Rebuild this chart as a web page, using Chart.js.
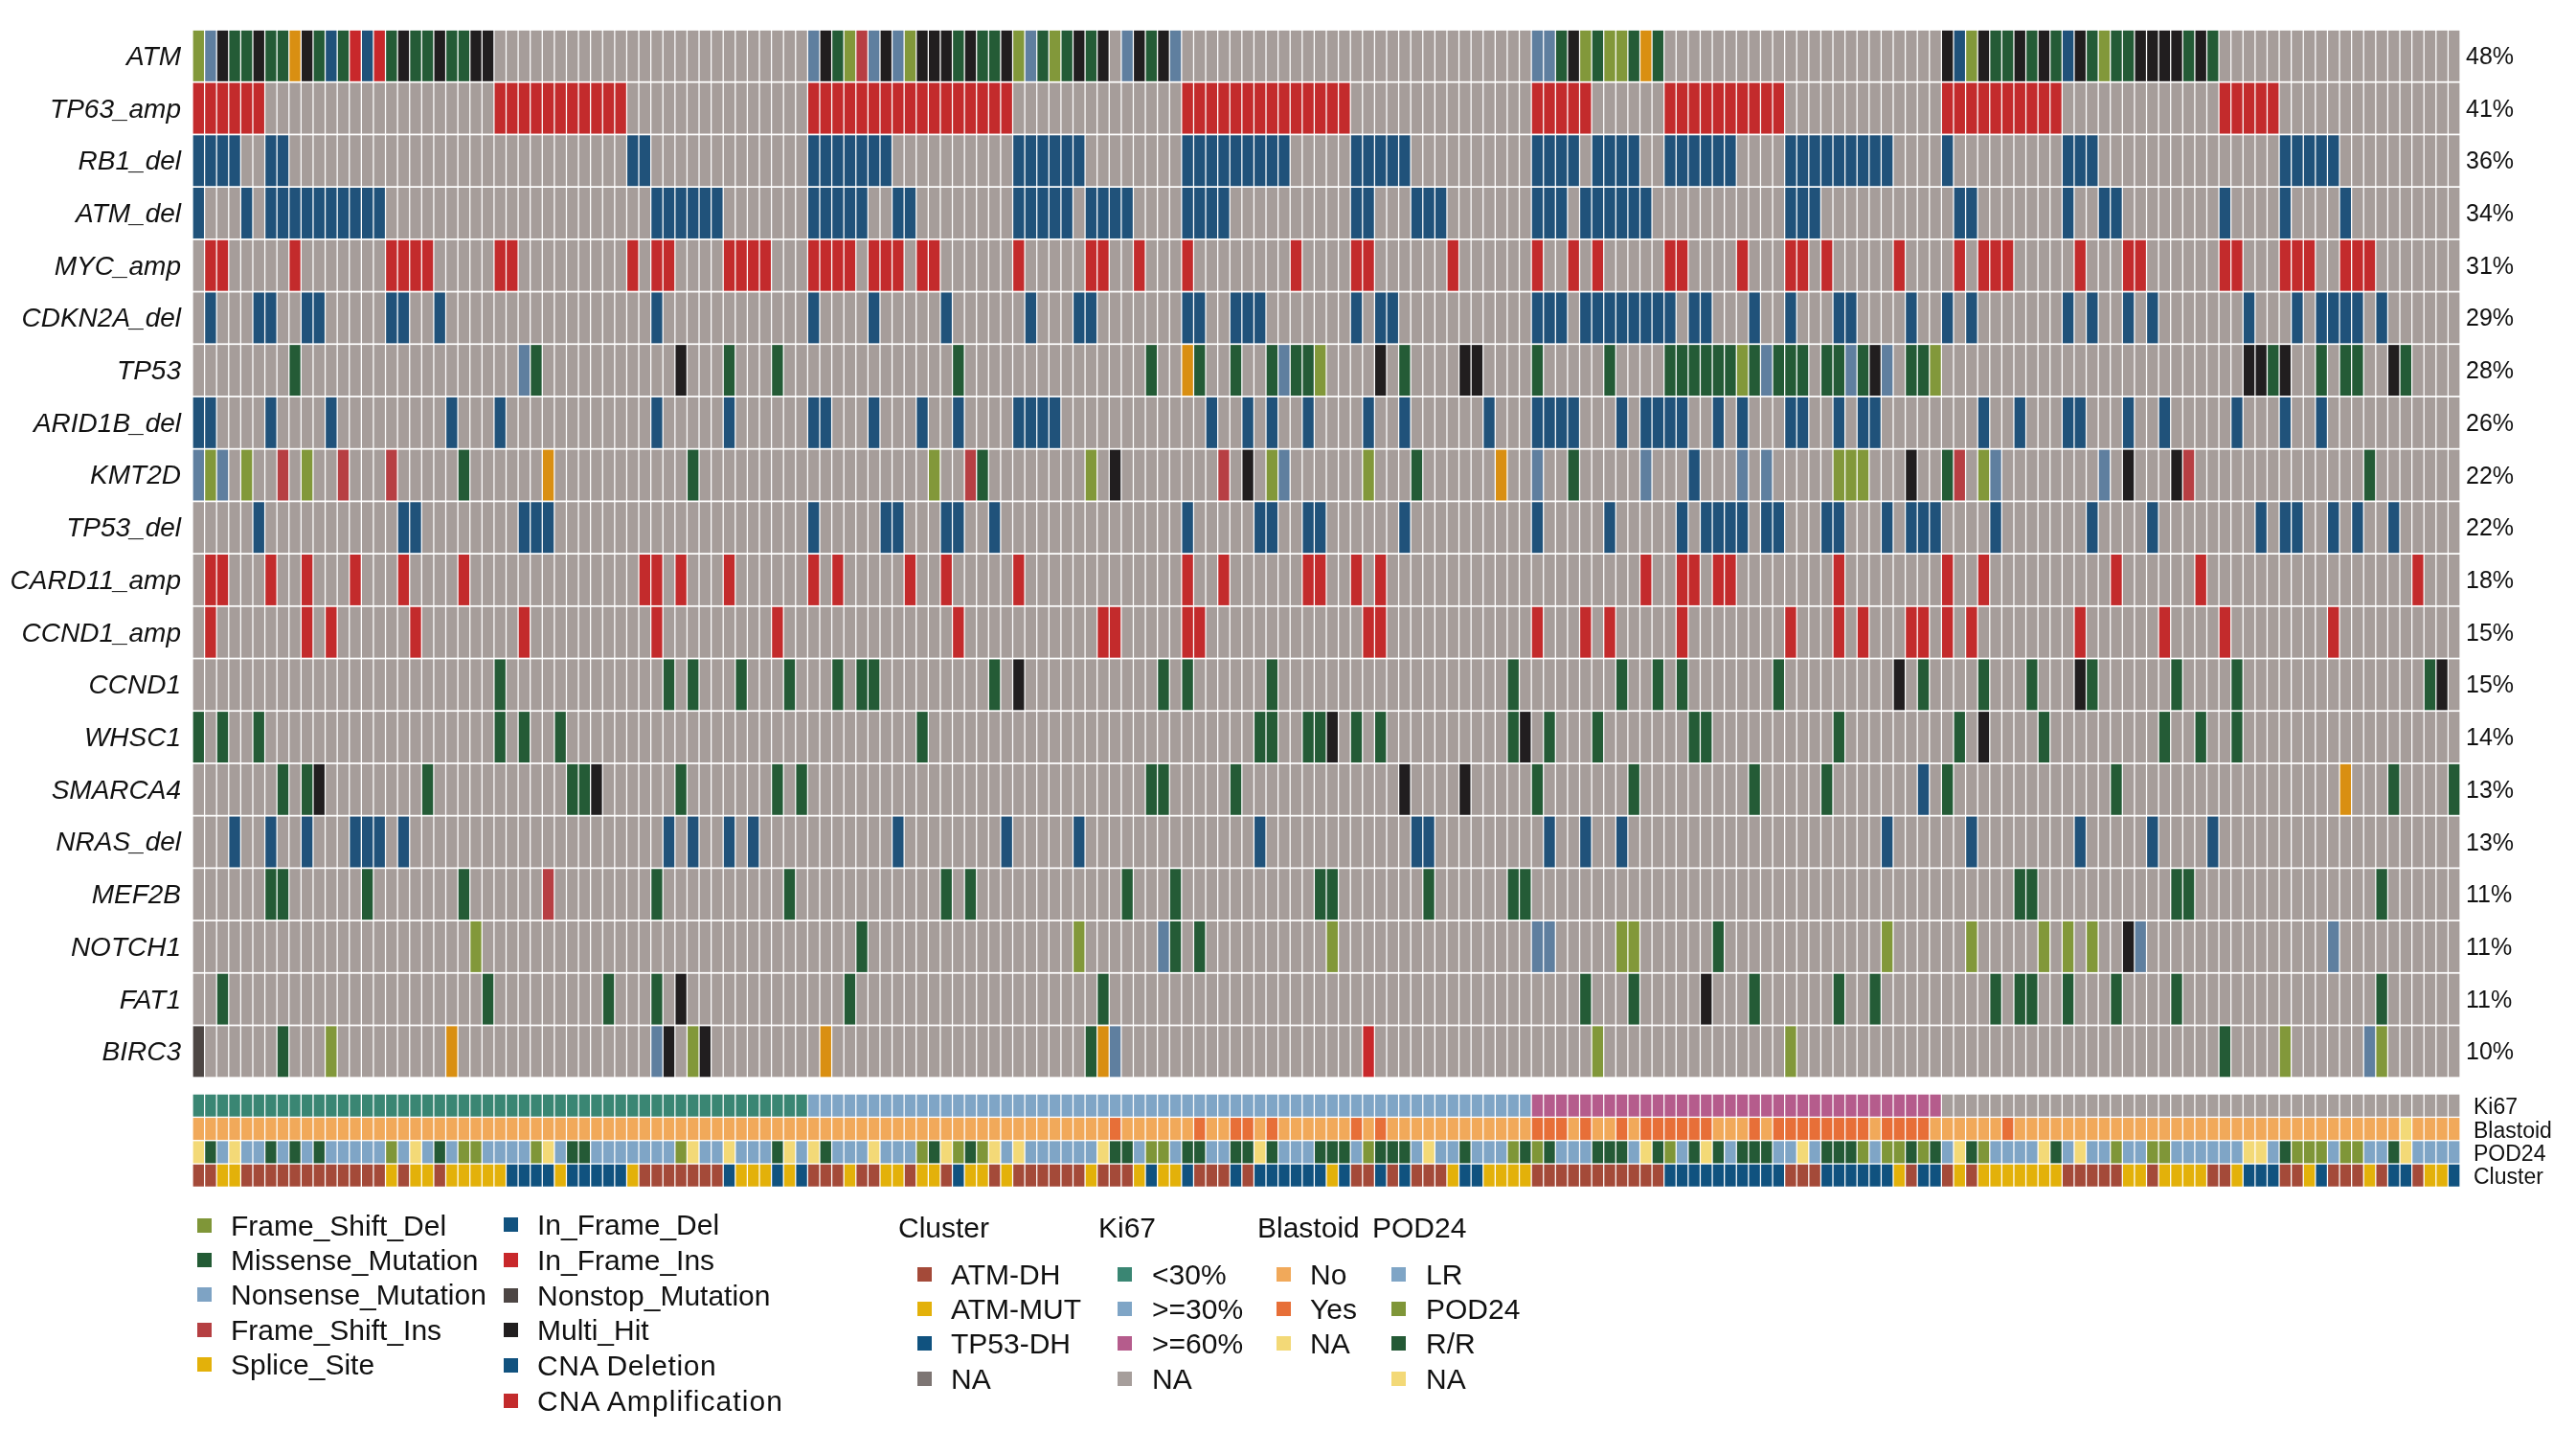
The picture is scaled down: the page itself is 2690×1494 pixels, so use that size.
<!DOCTYPE html>
<html>
<head>
<meta charset="utf-8">
<title>Oncoprint</title>
<script src="https://cdn.jsdelivr.net/npm/chart.js@4"></script>
<style>
  body { margin: 0; background: #fff; overflow: hidden; }
  #wrap { position: relative; width: 2690px; height: 1494px; }
  #chart { position: absolute; left: 0; top: 0; }
  .lg { position: absolute; font: 30px "Liberation Sans", Arial, sans-serif; color: #111; line-height: 36px; white-space: nowrap; }
  .sw { position: absolute; width: 15px; height: 15px; }
</style>
</head>
<body>
<div id="wrap"><canvas id="chart" width="2690" height="1494"></canvas></div>
<script>
// samples, one column each
const sampleCount = 188;
const genes = ['ATM', 'TP63_amp', 'RB1_del', 'ATM_del', 'MYC_amp', 'CDKN2A_del', 'TP53', 'ARID1B_del', 'KMT2D', 'TP53_del',
  'CARD11_amp', 'CCND1_amp', 'CCND1', 'WHSC1', 'SMARCA4', 'NRAS_del', 'MEF2B', 'NOTCH1', 'FAT1', 'BIRC3'];
const percents = ['48%', '41%', '36%', '34%', '31%', '29%', '28%', '26%', '22%', '22%', '18%', '15%', '15%', '14%', '13%', '13%', '11%', '11%', '11%', '10%'];
const annotNames = ['Ki67', 'Blastoid', 'POD24', 'Cluster'];

// calls per gene: column (or column range) + alteration code
const callsATM = ['0F','1N','2H','3-4M','5H','6-7M','8S','9H','10M','11D','12M','13R','14D','15R','16M','17H','18-19M','20H','21-22M','23-24H',
  '51N','52H','53M','54F','55I','56N','57H','58N','59F','60-62H','63M','64H','65-66M','67H','68F','69N','70M','71F','72M','73H','74M','75H','77N','78H','79M','80H','81N',
  '111-112N','113M','114H','115F','116M','117-118F','119M','120S','121M',
  '145H','146D','147F','148H','149-150M','151H','152M','153H','154M','155D','156H','157M','158F','159-160M','161-164H','165M','166H','167M'];
const callsTP63amp = ['0-5A','25-35A','51-67A','82-95A','111-115A','122-131A','145-154A','168-172A'];
const callsRB1del = ['0-3L','6-7L','36-37L','51-57L','68-73L','82-90L','96-100L','111-114L','116-119L','122-127L','132-140L','145L','155-157L','173-177L'];
const callsATMdel = ['0L','4L','6-15L','38-43L','51-55L','58-59L','68-72L','74-77L','82-85L','96-97L','101-103L','111-113L','115-120L','132-134L','146-147L','155L','158-159L','168L','173L','178L'];
const callsMYCamp = ['1-2A','8A','16-19A','25-26A','36A','38-39A','44-47A','51-54A','56-58A','60-61A','68A','74-75A','78A','82A','91A','96-97A','104A','111A','114A','116A','122-123A','128A','132-133A','135A','141A','146A','148-150A','156A','160-161A','168-169A','173-175A','178-180A'];
const callsCDKN2Adel = ['1L','5-6L','9-10L','16-17L','20L','38L','51L','56L','62L','69L','73-74L','82-83L','86-88L','96L','98-99L','111-113L','115-122L','124-125L','129L','132L','136-137L','142L','145L','147L','155L','157L','160L','162L','170L','174L','176-179L','181L'];
const callsTP53 = ['8M','27N','28M','40H','44M','48M','63M','79M','82S','83M','86M','89M','90N','91-92M','93F','98H','100M','105-106H','111M','117M','122-127M','128F','129M','130N','131-133M','135-136M','137N','138M','139H','140N','142-143M','144F','170-171H','172M','173H','176M','178-179M','182H','183M'];
const callsARID1Bdel = ['0-1L','6L','11L','21L','25L','38L','44L','51-52L','56L','60L','63L','68-71L','84L','87L','89L','92L','97L','100L','107L','111-114L','118L','120-123L','126L','128L','132-133L','136L','138-139L','148L','151L','155-156L','160L','163L','169L','173L','176L'];
const callsKMT2D = ['0N','1F','2N','4F','7I','9F','12I','16I','22M','29S','41M','61F','64I','65M','74F','76H','85I','87H','89F','90N','97F','101M','108S','111N','114M','120N','124D','128N','130N','136-138F','142H','145M','146I','148F','149N','158N','160H','164H','165I','180M'];
const callsTP53del = ['5L','17-18L','27-29L','51L','57-58L','62-63L','66L','82L','88-89L','92-93L','100L','111L','117L','123L','125-128L','130-131L','135-136L','140L','142-144L','149L','157L','162L','171L','173-174L','177L','179L','182L'];
const callsCARD11amp = ['1-2A','6A','9A','13A','17A','22A','37-38A','40A','44A','51A','53A','59A','62A','68A','82A','85A','92-93A','96A','98A','120A','123-124A','126-127A','136A','145A','148A','159A','166A','184A'];
const callsCCND1amp = ['1A','9A','11A','18A','27A','38A','48A','63A','75-76A','82-83A','97-98A','111A','115A','117A','123A','132A','136A','138A','142-143A','145A','147A','156A','163A','168A','177A'];
const callsCCND1 = ['25M','39M','41M','45M','49M','53M','55-56M','66M','68H','80M','82M','89M','109M','118M','121M','123M','131M','141H','143M','148M','152M','156H','157M','164M','169M','185M','186H'];
const callsWHSC1 = ['0M','2M','5M','25M','27M','30M','60M','88-89M','92-93M','94H','96M','98M','109M','110H','112M','116M','124-125M','136M','146M','148H','153M','163M','166M','169M'];
const callsSMARCA4 = ['7M','9M','10H','19M','31-32M','33H','40M','48M','50M','79-80M','86M','100H','105H','111M','119M','129M','135M','143D','145M','159M','178S','182M','187M'];
const callsNRASdel = ['3L','6L','9L','13-15L','17L','39L','41L','44L','46L','58L','67L','73L','88L','101-102L','112L','115L','118L','140L','147L','156L','162L','167L'];
const callsMEF2B = ['6-7M','14M','22M','29I','38M','49M','62M','64M','77M','81M','93-94M','102M','109-110M','151-152M','164-165M','181M'];
const callsNOTCH1 = ['23F','55M','73F','80N','81M','83M','94F','111-112N','118-119F','126M','140F','147F','153F','155F','157F','160H','161N','177N'];
const callsFAT1 = ['2M','24M','34M','38M','40H','54M','75M','115M','119M','125H','129M','136M','139M','149M','151-152M','155M','159M','164M','181M'];
const callsBIRC3 = ['0T','7M','11F','21S','38N','39H','41F','42H','52S','74M','75S','76N','97R','116F','132F','168M','173F','180N','181F'];

// sample annotation tracks
const ki67Track = ['0-50G','51-110B','111-144P','145-187N'];
const blastoidTrack = ['76Y','83Y','86-87Y','89Y','96Y','98Y','111-113Y','115Y','118Y','120-125Y','129Y','131-138Y','140-143Y','150Y','183A'];
const pod24Track = ['0A','1R','3A','6R','8R','10R','16P','18A','20R','22-23P','28P','29A','31-32R','40P','41A','44A','48R','49A','51A','52R','56A','60P','61R','62A','63P','64R','65P','66A','68A','75A','76-77R','79-80P','82-83R','86-87R','88A','89R','93-95R','97P','98-100R','102A','105R','109P','110R','111P','112R','116-118R','120A','121R','122P','124R','125A','126R','128-130R','133A','135-137R','138P','140-141P','142R','143P','144R','146A','147R','148P','153A','154R','156A','159P','162-163P','170-171A','173R','174-176P','178-179P','182R','183A'];
const clusterTrack = ['0-1D','2-3U','4-15D','16U','17D','18-19U','20D','21-25U','26-29T','30U','31-35T','36U','37-43D','44T','45-47U','48T','49U','50T','51-53D','54U','55-56D','57-58U','59D','60-61U','62D','63T','64-65U','66D','67U','68-73D','74U','75-77D','78U','79T','80-81U','82T','83-85D','86T','87D','88-93T','94U','95T','96-97D','98T','99D','100T','101-103D','104U','105-106T','107-110U','111-121D','122-131T','132-134D','135-140T','141U','142D','143-144T','145D','146U','147D','148-154U','155-159D','160-161U','162D','163-166U','167-168D','169U','170-172T','173-174D','175U','176T','177-179D','180U','181D','182-183T','184D','185-186U','187T'];

const geneCalls = [callsATM, callsTP63amp, callsRB1del, callsATMdel, callsMYCamp, callsCDKN2Adel, callsTP53, callsARID1Bdel, callsKMT2D, callsTP53del,
  callsCARD11amp, callsCCND1amp, callsCCND1, callsWHSC1, callsSMARCA4, callsNRASdel, callsMEF2B, callsNOTCH1, callsFAT1, callsBIRC3];
const annotTracks = [ki67Track, blastoidTrack, pod24Track, clusterTrack];
const annotDefault = ['N', 'N', 'L', 'D'];

// colours
const cellGrey = '#a69d9a';
const callColors = { F: '#82983a', M: '#245b36', N: '#5f7f9f', I: '#b73f43', S: '#d98f12', D: '#20527a', R: '#c8282b', T: '#4d4644', H: '#211e1f', L: '#20527a', A: '#c32b2c' };
const annotColors = [
  { G: '#3a8673', B: '#7fa5c6', P: '#b55c8c', N: '#a69e9b' },
  { N: '#f1a95a', Y: '#e76f38', A: '#f3d977' },
  { L: '#7fa5c6', P: '#7f9638', R: '#245a36', A: '#f3d977' },
  { D: '#a44a39', U: '#e3b10a', T: '#10527f' }
];

// legends
const mutNames1 = ['Frame_Shift_Del', 'Missense_Mutation', 'Nonsense_Mutation', 'Frame_Shift_Ins', 'Splice_Site'];
const mutColors1 = ['#7f9638', '#235b35', '#7ea3c4', '#b53f42', '#e3b10a'];
const mutNames2 = ['In_Frame_Del', 'In_Frame_Ins', 'Nonstop_Mutation', 'Multi_Hit', 'CNA Deletion', 'CNA Amplification'];
const mutColors2 = ['#11527f', '#c8282b', '#4d4644', '#211e1f', '#11527f', '#c32b2c'];
const clusterNames = ['ATM-DH', 'ATM-MUT', 'TP53-DH', 'NA'];
const clusterColors = ['#a44a39', '#e3b10a', '#10527f', '#7d7573'];
const ki67Names = ['<30%', '>=30%', '>=60%', 'NA'];
const ki67Colors = ['#3a8673', '#7fa5c6', '#b55c8c', '#a69e9b'];
const blastoidNames = ['No', 'Yes', 'NA'];
const blastoidColors = ['#f1a95a', '#e76f38', '#f3d977'];
const pod24Names = ['LR', 'POD24', 'R/R', 'NA'];
const pod24Colors = ['#7fa5c6', '#7f9638', '#245a36', '#f3d977'];

function expand(tokens, fill) {
  const out = new Array(sampleCount).fill(fill);
  tokens.forEach(t => {
    const m = t.match(/^(\d+)(?:-(\d+))?([A-Z])$/);
    const from = +m[1], to = m[2] ? +m[2] : from;
    for (let i = from; i <= to; i++) out[i] = m[3];
  });
  return out;
}

// y layout in row units: a gene row is 1 unit tall
const annotTop = 20.32, annotStep = 0.445, annotHeight = 0.42, yMax = 22.08, rowPad = 0.016;
const labels = Array.from({ length: sampleCount }, (_, i) => 'S' + (i + 1));
const datasets = [];

genes.forEach((g, r) => {
  const codes = expand(geneCalls[r], null);
  datasets.push({
    label: g,
    data: codes.map(() => [r + rowPad, r + 1 - rowPad]),
    backgroundColor: codes.map(c => c ? callColors[c] : cellGrey)
  });
});
annotNames.forEach((name, r) => {
  const top = annotTop + r * annotStep;
  const codes = expand(annotTracks[r], annotDefault[r]);
  datasets.push({
    label: name,
    data: codes.map(() => [top, top + annotHeight]),
    backgroundColor: codes.map(c => annotColors[r][c])
  });
});

const rowCenters = genes.map((_, r) => r + 0.53);
const annotCenters = annotNames.map((_, r) => annotTop + r * annotStep + annotHeight / 2 + 0.05);
const fontFamily = '"Liberation Sans", Arial, sans-serif';

function sideAxis(position, width, values, names, font, padding, weight, noClip) {
  return {
    type: 'linear', position: position, reverse: true, min: 0, max: yMax, weight: weight,
    grid: { display: false, drawTicks: false }, border: { display: false },
    afterBuildTicks: s => { s.ticks = values.map(v => ({ value: v })); },
    afterFit: s => {
      s.width = width;
      // percent labels run over the narrow box of their axis
      if (noClip) s._computeLabelArea = () => undefined;
    },
    ticks: { autoSkip: false, padding: padding, color: '#111', font: font, callback: (v, i) => names[i] }
  };
}

new Chart(document.getElementById('chart'), {
  type: 'bar',
  data: { labels: labels, datasets: datasets },
  options: {
    responsive: false,
    devicePixelRatio: 1,
    animation: false,
    layout: { padding: { top: 31, bottom: 255 } },
    datasets: { bar: { grouped: false, barPercentage: 0.9, categoryPercentage: 1, borderWidth: 0 } },
    plugins: { legend: { display: false }, tooltip: { enabled: false } },
    scales: {
      x: { display: false, offset: true, grid: { display: false } },
      y: sideAxis('left', 201, rowCenters, genes, { family: fontFamily, size: 28, style: 'italic' }, 12, 0, false),
      pct: sideAxis('right', 14, rowCenters, percents, { family: fontFamily, size: 25 }, 6, 0, true),
      ann: sideAxis('right', 107, annotCenters, annotNames, { family: fontFamily, size: 23 }, 0, 1, false)
    }
  }
});

// legend blocks below the tracks
const wrap = document.getElementById('wrap');
function addText(text, x, cy, spacing) {
  const d = document.createElement('div');
  d.className = 'lg';
  d.textContent = text;
  d.style.left = x + 'px';
  d.style.top = (cy - 18) + 'px';
  if (spacing) d.style.letterSpacing = spacing + 'px';
  wrap.appendChild(d);
}
function addBlock(names, colors, swatchX, textX, firstY, step, spacings) {
  names.forEach((n, i) => {
    const cy = firstY + i * step;
    const s = document.createElement('div');
    s.className = 'sw';
    s.style.left = swatchX + 'px';
    s.style.top = (cy - 8) + 'px';
    s.style.background = colors[i];
    wrap.appendChild(s);
    addText(n, textX, cy, spacings ? spacings[i] : 0);
  });
}
addBlock(mutNames1, mutColors1, 206, 241, 1279.5, 36.4);
addBlock(mutNames2, mutColors2, 526, 561, 1279, 36.8, [0, 0, 0, 0, 0.6, 1.1]);
addText('Cluster', 938, 1282);
addText('Ki67', 1147, 1282);
addText('Blastoid', 1313, 1282);
addText('POD24', 1433, 1282);
addBlock(clusterNames, clusterColors, 958, 993, 1330.5, 36.4);
addBlock(ki67Names, ki67Colors, 1167, 1203, 1330.5, 36.4);
addBlock(blastoidNames, blastoidColors, 1333, 1368, 1330.5, 36.4);
addBlock(pod24Names, pod24Colors, 1453, 1489, 1330.5, 36.4);
</script>
</body>
</html>
